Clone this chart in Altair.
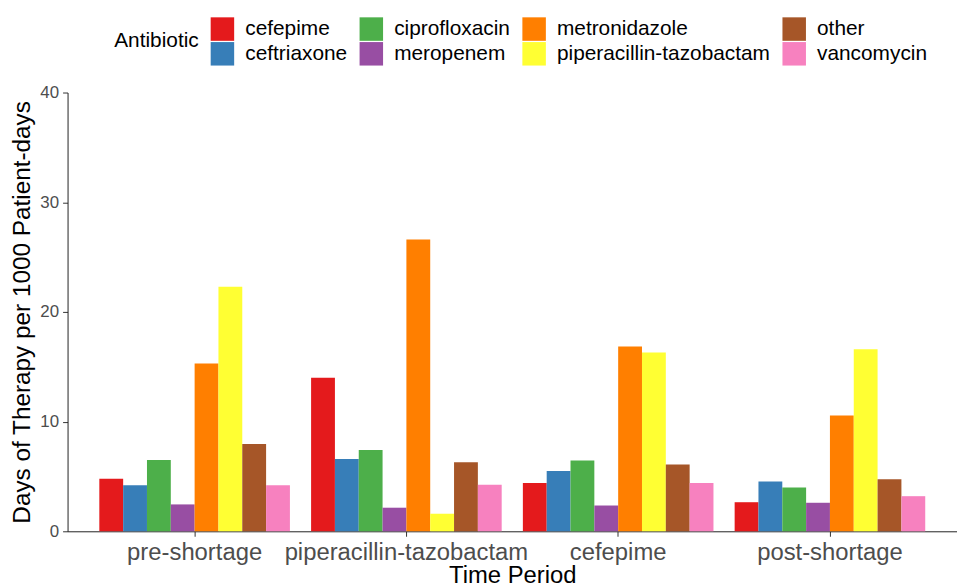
import altair as alt
import pandas as pd

periods = ["pre-shortage", "piperacillin-tazobactam", "cefepime", "post-shortage"]
antibiotics = ["cefepime", "ceftriaxone", "ciprofloxacin", "meropenem",
               "metronidazole", "piperacillin-tazobactam", "other", "vancomycin"]
colors = ["#E41A1C", "#377EB8", "#4DAF4A", "#984EA3",
          "#FF7F00", "#FFFF33", "#A65628", "#F781BF"]

# values per antibiotic, one entry per period (same order as periods)
cefepime = [4.8, 14.0, 4.4, 2.65]
ceftriaxone = [4.2, 6.6, 5.5, 4.55]
ciprofloxacin = [6.5, 7.4, 6.45, 4.0]
meropenem = [2.45, 2.15, 2.35, 2.6]
metronidazole = [15.3, 26.6, 16.85, 10.55]
piperacillin_tazobactam = [22.3, 1.6, 16.3, 16.6]
other = [7.95, 6.3, 6.1, 4.75]
vancomycin = [4.2, 4.25, 4.4, 3.2]

series = [cefepime, ceftriaxone, ciprofloxacin, meropenem,
          metronidazole, piperacillin_tazobactam, other, vancomycin]

rows = []
for ab, vals in zip(antibiotics, series):
    for p, v in zip(periods, vals):
        rows.append({"period": p, "antibiotic": ab, "dot": v})
df = pd.DataFrame(rows)

# legend is filled column-wise (2 rows), so reorder domain for row-major layout
legend_order = [antibiotics[i] for i in (0, 2, 4, 6, 1, 3, 5, 7)]
legend_colors = [colors[i] for i in (0, 2, 4, 6, 1, 3, 5, 7)]

FONT = "Liberation Sans"

chart = alt.Chart(df).mark_bar().encode(
    x=alt.X("period:N", sort=periods, title="Time Period",
            scale=alt.Scale(paddingInner=0.1, paddingOuter=0.15),
            axis=alt.Axis(labelAngle=0, labelFontSize=24, labelColor="#4D4D4D",
                          labelLimit=400, labelPadding=4, tickSize=5,
                          titleFontSize=24, titleFontWeight="normal",
                          titleColor="black", titlePadding=0,
                          domainColor="#222222", tickColor="#333333",
                          labelFont=FONT, titleFont=FONT)),
    xOffset=alt.XOffset("antibiotic:N", sort=antibiotics,
                        scale=alt.Scale(paddingInner=0, paddingOuter=0)),
    y=alt.Y("dot:Q", title="Days of Therapy per 1000 Patient-days",
            scale=alt.Scale(domain=[0, 40], nice=False),
            axis=alt.Axis(values=[0, 10, 20, 30, 40], grid=False,
                          labelFontSize=17, labelColor="#4D4D4D",
                          labelPadding=4, tickSize=5,
                          titleFontSize=24.5, titleFontWeight="normal",
                          titleColor="black", titlePadding=5,
                          domainColor="#222222", tickColor="#333333",
                          labelFont=FONT, titleFont=FONT)),
    color=alt.Color("antibiotic:N", title="Antibiotic",
                    scale=alt.Scale(domain=legend_order, range=legend_colors),
                    legend=alt.Legend(orient="none", legendX=47, legendY=-76,
                                      columns=4, direction="horizontal",
                                      symbolType="square", symbolSize=560,
                                      symbolStrokeWidth=0, symbolOpacity=1,
                                      labelFontSize=21, labelFont=FONT,
                                      labelColor="black", labelLimit=400,
                                      labelOffset=11, columnPadding=12,
                                      rowPadding=1,
                                      titleOrient="left", titleFontSize=21,
                                      titleFont=FONT, titleFontWeight="normal",
                                      titleColor="black", titlePadding=11,
                                      titleAnchor="middle", titleBaseline="middle")),
).properties(
    width=896, height=442,
    padding={"left": 2, "top": 7, "right": 0, "bottom": 0},
).configure_view(stroke=None)

chart.save("out.html", embed_options={"renderer": "svg", "actions": False})
